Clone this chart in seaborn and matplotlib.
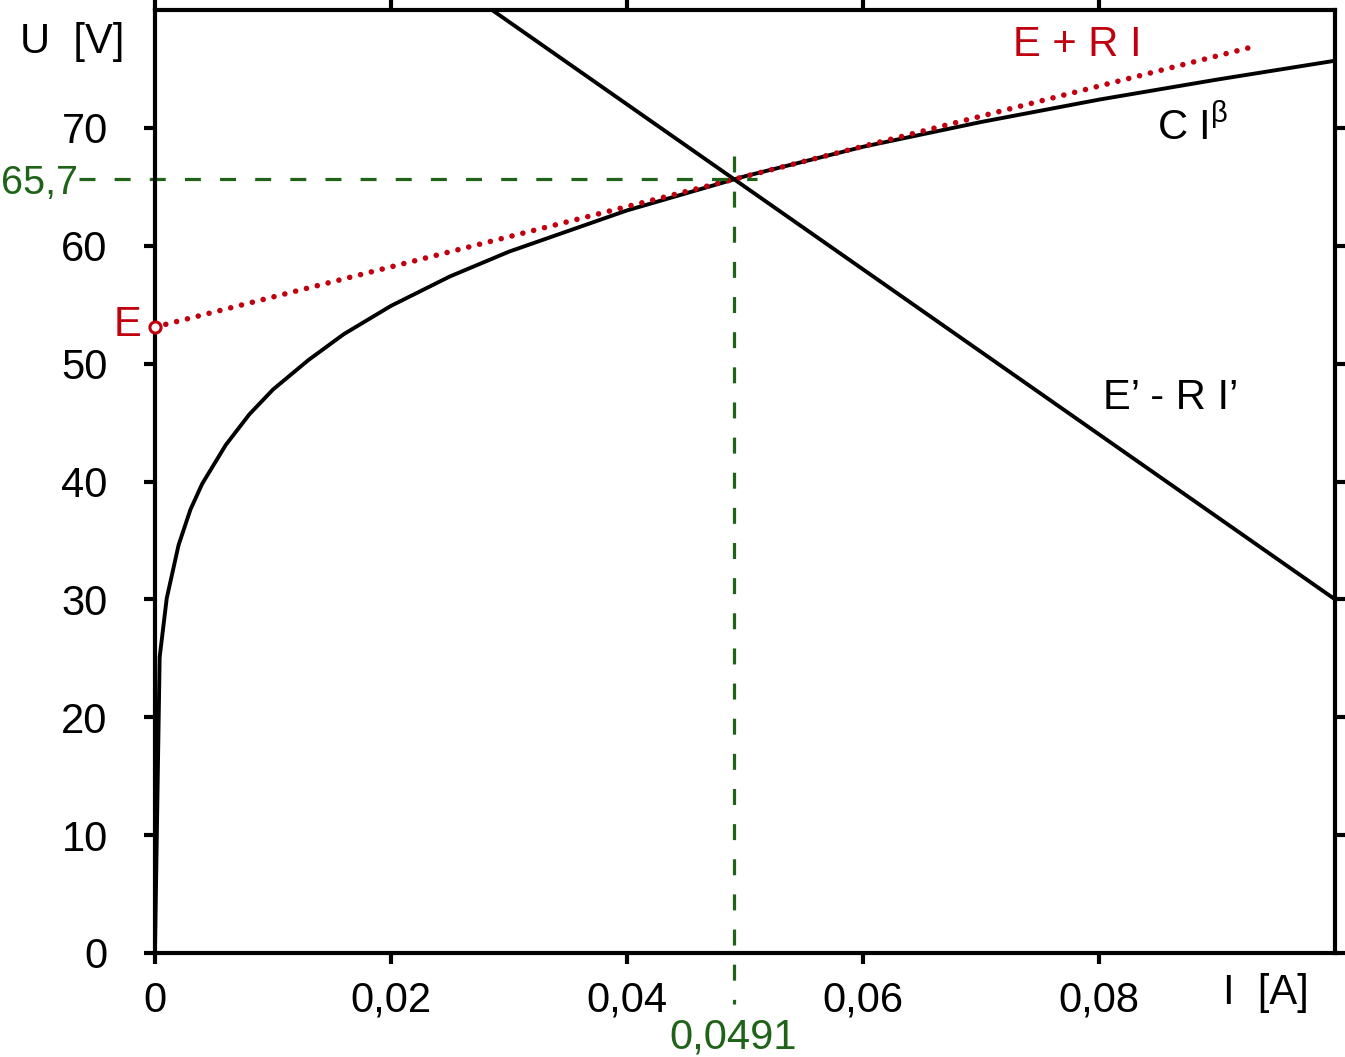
import pandas as pd
import matplotlib
matplotlib.use("Agg")
import matplotlib.pyplot as plt
import seaborn as sns

# Characteristic C I^beta
I_curve = [0, 0.0004, 0.001, 0.002, 0.003, 0.004, 0.006, 0.008, 0.01, 0.013, 0.016,
           0.02, 0.025, 0.03, 0.04, 0.05, 0.06, 0.07, 0.08, 0.09, 0.1]
U_curve = [0, 25.1, 30.1, 34.6, 37.6, 39.8, 43.1, 45.7, 47.8, 50.3, 52.5,
           54.9, 57.4, 59.5, 63.0, 65.9, 68.4, 70.5, 72.4, 74.1, 75.7]

# Load line E' - R I'
I_load = [0.0, 0.1]
U_load = [100, 30]

# Line E + R I (red dotted)
I_src = [0.0, 0.0935]
U_src = [53.1, 77.0]

# Operating point
I_op = 0.0491
U_op = 65.7

x_ticks = [0, 0.02, 0.04, 0.06, 0.08]
x_labels = ["0", "0,02", "0,04", "0,06", "0,08"]
y_ticks = [0, 10, 20, 30, 40, 50, 60, 70]
y_labels = ["0", "10", "20", "30", "40", "50", "60", "70"]

red = "#c0000f"
green = "#1f6318"
fs = 30

sns.set_style("ticks", {"axes.edgecolor": "black", "text.color": "black",
                        "xtick.color": "black", "ytick.color": "black"})
plt.rcParams["font.family"] = ["Liberation Sans", "DejaVu Sans"]

fig = plt.figure(figsize=(13.45, 10.57), dpi=100)
ax = fig.add_axes([0.1152, 0.0984, 0.8774, 0.8921])

curve = pd.DataFrame({"I": I_curve, "U": U_curve})
load = pd.DataFrame({"I": I_load, "U": U_load})
src = pd.DataFrame({"I": I_src, "U": U_src})

sns.lineplot(data=curve, x="I", y="U", ax=ax, color="black", lw=2.8,
             sort=False, estimator=None)
sns.lineplot(data=load, x="I", y="U", ax=ax, color="black", lw=2.8,
             sort=False, estimator=None)
sns.lineplot(data=src, x="I", y="U", ax=ax, color=red, lw=4.0,
             sort=False, estimator=None, linestyle=(0, (0.01, 2.0)),
             dash_capstyle="round")
ax.plot(I_src[0], U_src[0], marker="o", ms=8, mfc="white", mec=red, mew=2.2,
        clip_on=False, zorder=5)

# green dashed guides to the operating point
ax.plot([-0.0064, 0.051], [U_op, U_op], color=green, lw=2.3,
        linestyle=(0, (5, 6)), clip_on=False)
ax.plot([I_op, I_op], [67.6, -4.3], color=green, lw=2.3,
        linestyle=(0, (5, 6)), clip_on=False)

ax.set_xlim(0, 0.1)
ax.set_ylim(0, 80)
ax.set_xticks(x_ticks)
ax.set_xticklabels(x_labels)
ax.set_yticks(y_ticks)
ax.set_yticklabels(y_labels)
ax.set_xlabel("")
ax.set_ylabel("")
ax.tick_params(axis="both", direction="out", length=8, width=3, labelsize=fs,
               top=True, right=True, colors="black")
ax.tick_params(axis="x", pad=12)
ax.tick_params(axis="y", pad=26)
for s in ax.spines.values():
    s.set_linewidth(3)
    s.set_color("black")
    s.set_visible(True)

# labels
fig.text(20 / 1345, 1 - 42 / 1057, "U  [V]", fontsize=fs, ha="left", va="center")
fig.text(1223 / 1345, 1 - 993 / 1057, "I  [A]", fontsize=fs, ha="left", va="center")
fig.text(78 / 1345, 1 - 183 / 1057, "65,7", fontsize=28.5, color=green, ha="right", va="center")
fig.text(733 / 1345, 1 - 1037 / 1057, "0,0491", fontsize=fs, color=green, ha="center", va="center")
fig.text(141 / 1345, 1 - 325 / 1057, "E", fontsize=fs, color=red, ha="right", va="center")
fig.text(1013 / 1345, 1 - 45 / 1057, "E + R I", fontsize=fs, color=red, ha="left", va="center")
fig.text(1157 / 1345, 1 - 127 / 1057, r"C I$^{\mathregular{\beta}}$", fontsize=fs, ha="left", va="center")
fig.text(1103 / 1345, 1 - 398 / 1057, "E\u2019 - R I\u2019", fontsize=fs, ha="left", va="center")

fig.savefig("out.png", dpi=100)
